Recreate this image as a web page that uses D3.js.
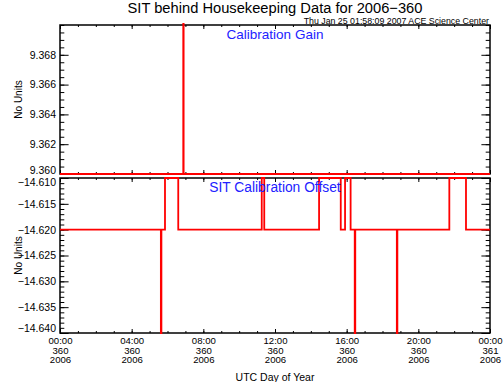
<!DOCTYPE html>
<html>
<head>
<meta charset="utf-8">
<script src="https://cdn.jsdelivr.net/npm/d3@7"></script>
<style>
  body { margin: 0; background: #fff; }
  text { font-family: "Liberation Sans", Arial, sans-serif; }
</style>
</head>
<body>
<div id="chart"></div>
<script>
// data (hours of day 360)
var gainTimes  = [0, 6.88, 6.90, 24];
var gainValues = [9.360, 9.380, 9.360, 9.360];

var offsetTimes  = [0, 5.63, 5.66, 5.86, 6.60, 11.26, 11.40, 14.46, 15.67, 15.91, 16.22, 16.45, 16.48, 18.80, 18.83, 21.73, 22.66, 24];
var offsetValues = [-14.620, -14.640, -14.620, -14.610, -14.620, -14.610, -14.620, -14.610, -14.620, -14.610, -14.620, -14.640, -14.620, -14.640, -14.620, -14.610, -14.620, -14.620];

// tick labels
var xTickHours = [0, 4, 8, 12, 16, 20, 24];
var xTickClock = ["00:00", "04:00", "08:00", "12:00", "16:00", "20:00", "00:00"];
var xTickDay   = ["360", "360", "360", "360", "360", "360", "361"];
var xTickYear  = ["2006", "2006", "2006", "2006", "2006", "2006", "2006"];
var gainTicks   = [9.360, 9.362, 9.364, 9.366, 9.368];
var offsetTicks = [-14.640, -14.635, -14.630, -14.625, -14.620, -14.615, -14.610];

var width = 503, height = 382;
var left = 60, right = 490;

var svg = d3.select("#chart").append("svg")
    .attr("width", width)
    .attr("height", height);

var x = d3.scaleLinear().domain([0, 24]).range([left, right]);

var panels = [
  {times: gainTimes, values: gainValues, domain: [9.360, 9.370], range: [174, 25],
   ticks: gainTicks, minor: 0.0005, label: "Calibration Gain", labelY: 39},
  {times: offsetTimes, values: offsetValues, domain: [-14.640, -14.610], range: [333, 178],
   ticks: offsetTicks, minor: 0.001, label: "SIT Calibration Offset", labelY: 192}
];

var fmt = d3.format(".3f");
var minorHours = d3.range(0, 25, 1);

panels.forEach(function(p, i) {
  var y = d3.scaleLinear().domain(p.domain).range(p.range);
  var top = p.range[1], bottom = p.range[0];
  var ph = bottom - top;
  var minorVals = d3.range(p.domain[0], p.domain[1] + p.minor / 2, p.minor);

  // frame
  svg.append("rect")
    .attr("x", left).attr("y", top)
    .attr("width", right - left).attr("height", ph)
    .attr("fill", "none").attr("stroke", "#000").attr("stroke-width", 1.5);

  // y axes (left labelled, right plain), ticks point inward
  var yl = svg.append("g").attr("transform", "translate(" + left + ",0)")
    .call(d3.axisLeft(y).tickValues(p.ticks).tickFormat(fmt).tickSize(-8.6).tickPadding(4));
  svg.append("g").attr("transform", "translate(" + left + ",0)")
    .call(d3.axisLeft(y).tickValues(minorVals).tickFormat("").tickSize(-4.3));
  svg.append("g").attr("transform", "translate(" + right + ",0)")
    .call(d3.axisRight(y).tickValues(p.ticks).tickFormat("").tickSize(-8.6));
  svg.append("g").attr("transform", "translate(" + right + ",0)")
    .call(d3.axisRight(y).tickValues(minorVals).tickFormat("").tickSize(-4.3));

  // x ticks top and bottom
  svg.append("g").attr("transform", "translate(0," + top + ")")
    .call(d3.axisTop(x).tickValues(xTickHours).tickFormat("").tickSize(-4));
  svg.append("g").attr("transform", "translate(0," + top + ")")
    .call(d3.axisTop(x).tickValues(minorHours).tickFormat("").tickSize(-2));
  var xb = svg.append("g").attr("transform", "translate(0," + bottom + ")")
    .call(d3.axisBottom(x).tickValues(xTickHours).tickFormat("").tickSize(-4));
  svg.append("g").attr("transform", "translate(0," + bottom + ")")
    .call(d3.axisBottom(x).tickValues(minorHours).tickFormat("").tickSize(-2));

  svg.selectAll(".domain").remove();
  yl.selectAll("text").attr("font-size", 10.5).attr("font-family", "Liberation Sans, Arial, sans-serif");
  // labels at the panel edges sit just inside their panel so they don't collide
  if (i === 0) yl.selectAll("text").filter(function(d) { return d === p.domain[0]; }).attr("dy", "-0.05em");
  if (i === 1) {
    yl.selectAll("text").filter(function(d) { return d === p.domain[1]; }).attr("dy", "0.72em");
    yl.selectAll("text").filter(function(d) { return d === p.domain[0]; }).attr("dy", "-0.1em");
  }

  if (i === 1) {
    var lbl = xb.selectAll(".tick").append("text")
      .attr("fill", "#000")
      .attr("text-anchor", "middle")
      .attr("font-size", 9.6)
      .attr("font-family", "Liberation Sans, Arial, sans-serif");
    lbl.append("tspan").attr("x", 0).attr("y", 11).text(function(d, j) { return xTickClock[j]; });
    lbl.append("tspan").attr("x", 0).attr("y", 20.6).text(function(d, j) { return xTickDay[j]; });
    lbl.append("tspan").attr("x", 0).attr("y", 30.2).text(function(d, j) { return xTickYear[j]; });
  }

  // data line, clipped to the panel
  svg.append("clipPath").attr("id", "clip" + i)
    .append("rect").attr("x", left - 2).attr("y", top - 2)
    .attr("width", right - left + 4).attr("height", ph + 4);

  var pts = p.times.map(function(t, k) { return [t, p.values[k]]; });
  var line = d3.line()
    .x(function(d) { return x(d[0]); })
    .y(function(d) { return y(d[1]); })
    .curve(d3.curveStepAfter);

  svg.append("path")
    .datum(pts)
    .attr("clip-path", "url(#clip" + i + ")")
    .attr("d", line)
    .attr("fill", "none")
    .attr("stroke", "#ff0000")
    .attr("stroke-width", 1.8);

  // panel label
  svg.append("text")
    .attr("x", 275).attr("y", p.labelY)
    .attr("text-anchor", "middle")
    .attr("fill", "#2222ff")
    .attr("font-size", i === 0 ? 13.5 : 13.8)
    .text(p.label);

  // y title
  svg.append("text")
    .attr("transform", "translate(22," + (top + ph / 2) + ") rotate(-90)")
    .attr("text-anchor", "middle")
    .attr("font-size", 10)
    .text("No Units");
});

svg.append("text")
  .attr("x", 275).attr("y", 12.5)
  .attr("text-anchor", "middle")
  .attr("font-size", 14.7)
  .text("SIT behind Housekeeping Data for 2006\u2212360");

svg.append("text")
  .attr("x", 489).attr("y", 23.8)
  .attr("text-anchor", "end")
  .attr("font-size", 8.8)
  .text("Thu Jan 25 01:58:09 2007 ACE Science Center");

svg.append("text")
  .attr("x", 275).attr("y", 381)
  .attr("text-anchor", "middle")
  .attr("font-size", 10.5)
  .text("UTC Day of Year");
</script>
</body>
</html>
